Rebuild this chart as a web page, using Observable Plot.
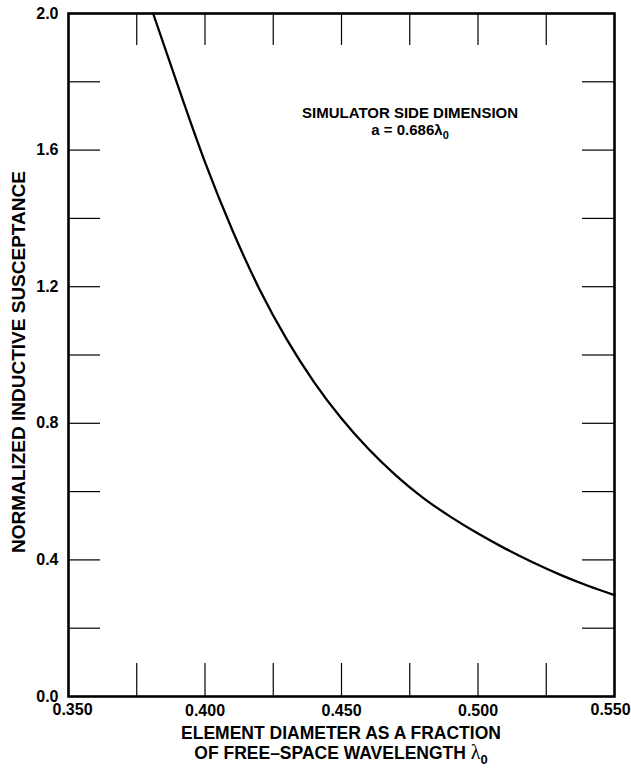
<!DOCTYPE html>
<html><head><meta charset="utf-8">
<script src="https://cdn.jsdelivr.net/npm/d3@7"></script>
<script src="https://cdn.jsdelivr.net/npm/@observablehq/plot@0.6"></script>
<style>html,body{margin:0;padding:0;background:#fff} svg{display:block}</style>
</head><body><div id="chart"></div>
<script>
// ---- data ----
const diameter = [0.381,0.390,0.400,0.410,0.420,0.430,0.440,0.450,0.460,0.470,0.480,0.490,0.500,0.510,0.520,0.530,0.540,0.550];
const susceptance = [2.000,1.790,1.565,1.366,1.192,1.045,0.920,0.814,0.724,0.647,0.581,0.526,0.477,0.433,0.393,0.357,0.325,0.297];
const xTickLabels = [0.350,0.400,0.450,0.500,0.550];
const yTickLabels = [0.0,0.4,0.8,1.2,1.6,2.0];
const xMinorTicks = [0.375,0.400,0.425,0.450,0.475,0.500,0.525];
const yMinorTicks = [0.2,0.4,0.6,0.8,1.0,1.2,1.4,1.6,1.8];
const xTitle1 = "ELEMENT DIAMETER AS A FRACTION";
const xTitle2 = "OF FREE\u2013SPACE WAVELENGTH ";
const yTitle = "NORMALIZED INDUCTIVE SUSCEPTANCE";
const note1 = "SIMULATOR SIDE DIMENSION";
const note2 = "a = 0.686\u03bb";
const noteAt = {x: 0.4753, y: 1.688};

const curve = diameter.map((d, i) => ({x: d, y: susceptance[i]}));

const W = 631, H = 770, mL = 68, mR = 17, mT = 13, mB = 74;
const pw = W - mL - mR, ph = H - mT - mB, TL = 32;
const FONT = "'Liberation Sans', Arial, Helvetica, sans-serif";

const svg = Plot.plot({
  width: W, height: H,
  marginLeft: mL, marginRight: mR, marginTop: mT, marginBottom: mB,
  style: {fontFamily: FONT, fontSize: "16px", fontWeight: "bold", color: "#000", background: "#fff"},
  x: {domain: [0.35, 0.55], axis: null},
  y: {domain: [0, 2.0]},
  marks: [
    Plot.tickX(xMinorTicks, {x: d => d, insetBottom: ph - TL, stroke: "#000", strokeWidth: 1.2}),
    Plot.tickX(xMinorTicks, {x: d => d, insetTop: ph - TL - 1, stroke: "#000", strokeWidth: 1.2}),
    Plot.tickY(yMinorTicks, {y: d => d, insetRight: pw - TL, stroke: "#000", strokeWidth: 1.2}),
    Plot.tickY(yMinorTicks, {y: d => d, insetLeft: pw - TL, stroke: "#000", strokeWidth: 1.2}),
    Plot.line(curve, {x: "x", y: "y", curve: "monotone-x", stroke: "#000", strokeWidth: 2.3}),
    Plot.frame({stroke: "#000", strokeWidth: 2.6}),
    Plot.axisY(yTickLabels, {tickSize: 0, tickPadding: 10, tickFormat: d => d.toFixed(1), fontSize: 16, fontWeight: "bold", label: null}),
    Plot.text(xTickLabels.slice(1, -1), {x: d => d, frameAnchor: "bottom", dy: 14, text: d => d.toFixed(3), fontSize: 16, fontWeight: "bold", lineAnchor: "middle"}),
    Plot.text(xTickLabels.slice(0, 1), {x: d => d, frameAnchor: "bottom", dy: 13, dx: 4, text: d => d.toFixed(3), fontSize: 16, fontWeight: "bold", lineAnchor: "middle"}),
    Plot.text(xTickLabels.slice(-1), {x: d => d, frameAnchor: "bottom", dy: 13, dx: -4, text: d => d.toFixed(3), fontSize: 16, fontWeight: "bold", lineAnchor: "middle"})
  ]
});

// make sure the library's tick labels render bold at 16px
d3.select(svg).selectAll("text").style("font-weight", "bold").style("font-size", "16px");

const sx = svg.scale("x"), sy = svg.scale("y");
const g = d3.select(svg).append("g")
  .attr("font-family", FONT).style("font-weight", "bold").attr("fill", "#000");

// annotation
const ax = sx.apply(noteAt.x), ay = sy.apply(noteAt.y);
g.append("text").attr("x", ax).attr("y", ay - 2).attr("text-anchor", "middle").style("font-size", "15px").text(note1);
const n2 = g.append("text").attr("x", ax).attr("y", ay + 15).attr("text-anchor", "middle").style("font-size", "15px");
n2.append("tspan").text(note2);
n2.append("tspan").attr("dy", 4).style("font-size", "11px").text("0");

// x title
const cx = mL + pw / 2;
g.append("text").attr("x", cx).attr("y", 739).attr("text-anchor", "middle").style("font-size", "17.5px").text(xTitle1);
const t2 = g.append("text").attr("x", cx).attr("y", 759).attr("text-anchor", "middle").style("font-size", "17.5px");
t2.append("tspan").text(xTitle2);
t2.append("tspan").attr("font-family", "'Liberation Serif', 'DejaVu Serif', serif").style("font-weight", "normal").style("font-size", "20px").text("\u03bb");
t2.append("tspan").attr("dy", 5).style("font-size", "13px").text("0");

// y title
g.append("text").attr("transform", `translate(25,362) rotate(-90)`)
  .attr("text-anchor", "middle").style("font-size", "19px").text(yTitle);

document.getElementById("chart").appendChild(svg);
</script>
</body></html>
